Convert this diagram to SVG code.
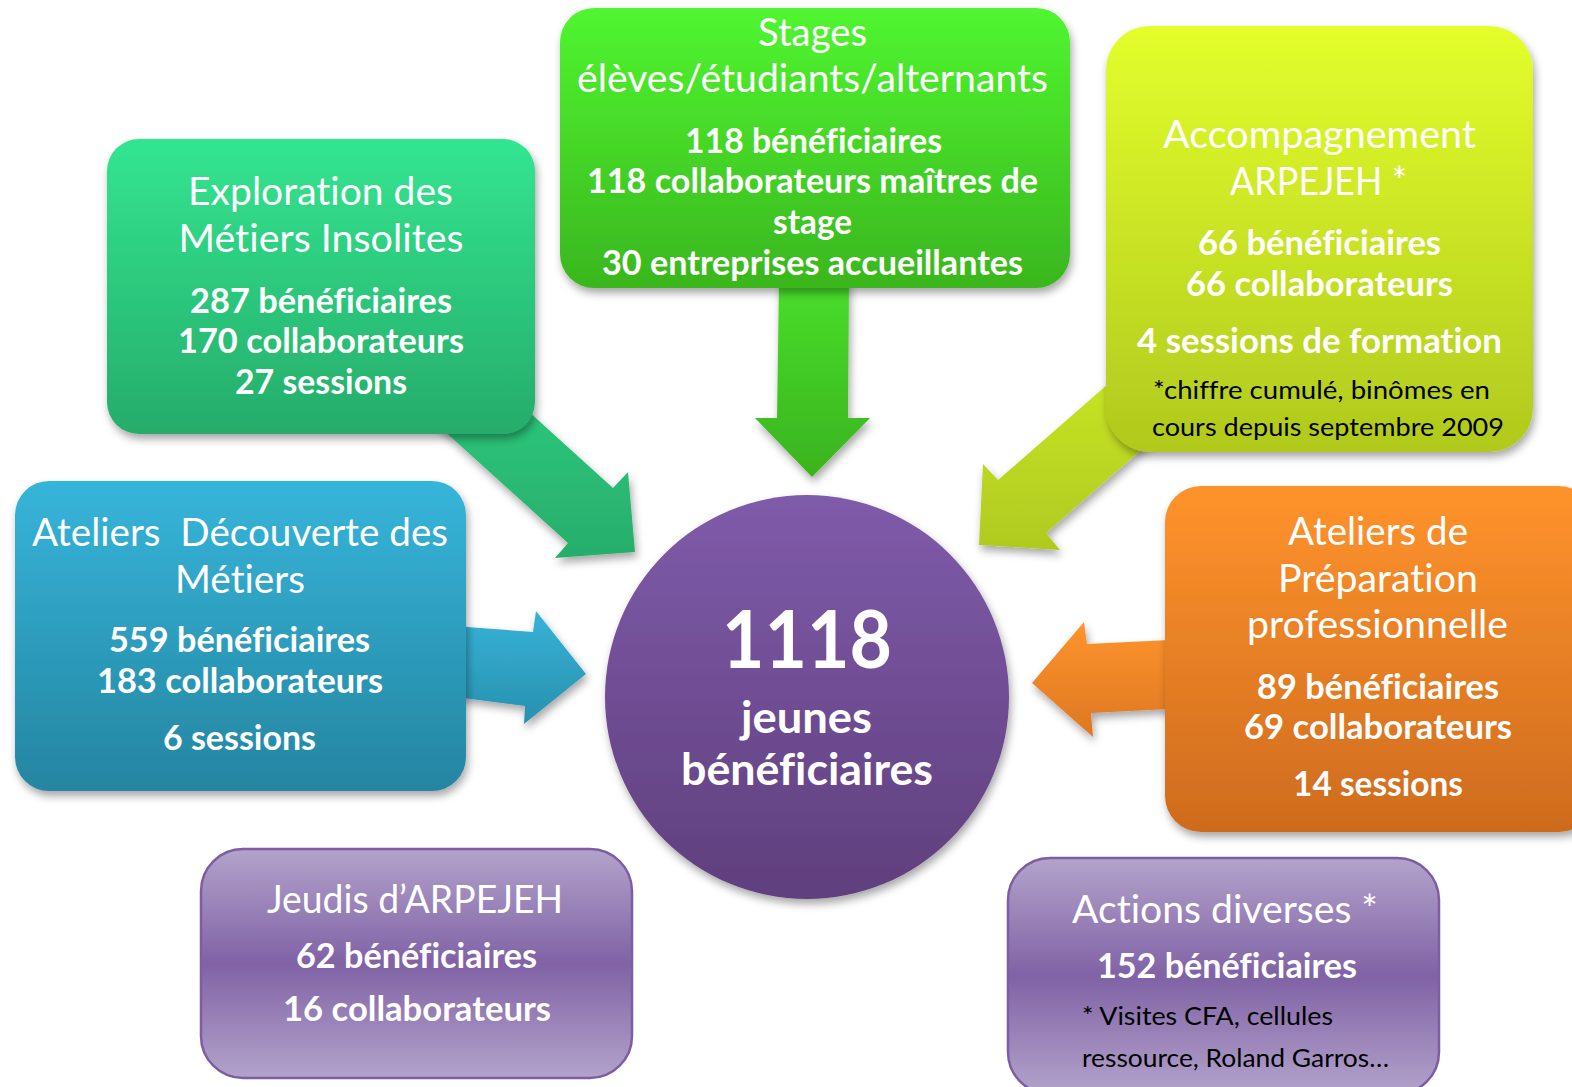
<svg xmlns="http://www.w3.org/2000/svg" width="1572" height="1087" viewBox="0 0 1572 1087">
<defs>
<style>
text{font-family:Lato,"Open Sans","Liberation Sans",sans-serif;text-anchor:middle;white-space:pre;font-variant-ligatures:none;font-feature-settings:"liga" 0}
.t{fill:#fff;font-size:38px;font-weight:400}
.b{fill:#fff;font-size:34px;font-weight:700}
.k{fill:#000;font-size:25px;font-weight:400;text-anchor:start}
.c{fill:#fff;font-weight:700}
</style>
<filter id="sh" x="-10%" y="-10%" width="125%" height="130%">
<feDropShadow dx="2" dy="5" stdDeviation="4" flood-color="#000" flood-opacity="0.35"/>
</filter>
<linearGradient id="gExp" x1="0" y1="0" x2="0" y2="1"><stop offset="0" stop-color="#33E590"/><stop offset="1" stop-color="#26AC6A"/></linearGradient>
<linearGradient id="gSta" x1="0" y1="0" x2="0" y2="1"><stop offset="0" stop-color="#50F630"/><stop offset="1" stop-color="#3AB61E"/></linearGradient>
<linearGradient id="gAcc" x1="0" y1="0" x2="0" y2="1"><stop offset="0" stop-color="#E3FE2B"/><stop offset="1" stop-color="#B0C91E"/></linearGradient>
<linearGradient id="gDec" x1="0" y1="0" x2="0" y2="1"><stop offset="0" stop-color="#36B5DA"/><stop offset="1" stop-color="#2585A1"/></linearGradient>
<linearGradient id="gPre" x1="0" y1="0" x2="0" y2="1"><stop offset="0" stop-color="#FF932C"/><stop offset="1" stop-color="#CE6B1E"/></linearGradient>
<linearGradient id="gPur" x1="0" y1="0" x2="0" y2="1"><stop offset="0" stop-color="#B3A3CB"/><stop offset="0.5" stop-color="#8062A5"/><stop offset="1" stop-color="#B3A3CB"/></linearGradient>
<linearGradient id="gCir" x1="0" y1="0" x2="0" y2="1"><stop offset="0" stop-color="#7F5BAA"/><stop offset="1" stop-color="#603F7D"/></linearGradient>
<linearGradient id="aExp" x1="0" y1="0" x2="0" y2="1"><stop offset="0" stop-color="#2FCD80"/><stop offset="1" stop-color="#27AE6B"/></linearGradient>
<linearGradient id="aSta" x1="0" y1="0" x2="0" y2="1"><stop offset="0" stop-color="#48DE2B"/><stop offset="1" stop-color="#3BB31E"/></linearGradient>
<linearGradient id="aAcc" x1="0" y1="0" x2="0" y2="1"><stop offset="0" stop-color="#CBE826"/><stop offset="1" stop-color="#B0CA1F"/></linearGradient>
<linearGradient id="aDec" x1="0" y1="0" x2="0" y2="1"><stop offset="0" stop-color="#37B3D7"/><stop offset="1" stop-color="#2890AF"/></linearGradient>
<linearGradient id="aPre" x1="0" y1="0" x2="0" y2="1"><stop offset="0" stop-color="#FF942D"/><stop offset="1" stop-color="#DD7722"/></linearGradient>
</defs>
<rect width="1572" height="1087" fill="#fff"/>

<g id="connectors" filter="url(#sh)">
<polygon fill="url(#aExp)" points="465,354 613,488 628,472 635,552 555,558 568,543 420,409"/>
<polygon fill="url(#aSta)" points="779,280 849,280 848,418 870,418 812,477 755,418 777,418"/>
<polygon fill="url(#aAcc)" points="1148,349 998,480 983,464 979,545 1060,550 1046,533 1196,402"/>
<polygon fill="url(#aDec)" points="440,625 533,632 536,611 586,674 524,724 525,706 440,695"/>
<polygon fill="url(#aPre)" points="1190,639 1087,644 1084,622 1032,683 1093,737 1091,713 1190,708"/>
</g>

<g id="center">
<circle cx="807" cy="697" r="202" fill="url(#gCir)" filter="url(#sh)"/>
<text class="c" x="807" y="668" font-size="80" textLength="170" lengthAdjust="spacingAndGlyphs">1118</text>
<text class="c" x="806.5" y="733" font-size="44" textLength="131" lengthAdjust="spacingAndGlyphs">jeunes</text>
<text class="c" x="807" y="785" font-size="44" textLength="252" lengthAdjust="spacingAndGlyphs">bénéficiaires</text>
</g>

<g id="exploration">
<rect x="107" y="139" width="428" height="295" rx="32" fill="url(#gExp)" filter="url(#sh)"/>
<text class="t" x="320.5" y="205" textLength="265" lengthAdjust="spacingAndGlyphs">Exploration des</text>
<text class="t" x="321" y="252" textLength="285" lengthAdjust="spacingAndGlyphs">Métiers Insolites</text>
<text class="b" x="321" y="313" textLength="262" lengthAdjust="spacingAndGlyphs">287 bénéficiaires</text>
<text class="b" x="321" y="353" textLength="286" lengthAdjust="spacingAndGlyphs">170 collaborateurs</text>
<text class="b" x="321" y="394" textLength="172" lengthAdjust="spacingAndGlyphs">27 sessions</text>
</g>

<g id="stages">
<rect x="560" y="8" width="510" height="280" rx="34" fill="url(#gSta)" filter="url(#sh)"/>
<text class="t" x="812.5" y="46" textLength="109" lengthAdjust="spacingAndGlyphs">Stages</text>
<text class="t" x="812.5" y="92" textLength="471" lengthAdjust="spacingAndGlyphs">élèves/étudiants/alternants</text>
<text class="b" x="813.5" y="153" textLength="257" lengthAdjust="spacingAndGlyphs">118 bénéficiaires</text>
<text class="b" x="812.5" y="193" textLength="451" lengthAdjust="spacingAndGlyphs">118 collaborateurs maîtres de</text>
<text class="b" x="812.5" y="234" textLength="79" lengthAdjust="spacingAndGlyphs">stage</text>
<text class="b" x="812.5" y="275" textLength="421" lengthAdjust="spacingAndGlyphs">30 entreprises accueillantes</text>
</g>

<g id="accompagnement">
<rect x="1106" y="26" width="427" height="426" rx="44" fill="url(#gAcc)" filter="url(#sh)"/>
<text class="t" x="1319.5" y="148" textLength="313" lengthAdjust="spacingAndGlyphs">Accompagnement</text>
<text class="t" x="1318.5" y="195" textLength="177" lengthAdjust="spacingAndGlyphs">ARPEJEH *</text>
<text class="b" x="1319.5" y="255" textLength="243" lengthAdjust="spacingAndGlyphs">66 bénéficiaires</text>
<text class="b" x="1319.5" y="296" textLength="267" lengthAdjust="spacingAndGlyphs">66 collaborateurs</text>
<text class="b" x="1319.5" y="353" textLength="365" lengthAdjust="spacingAndGlyphs">4 sessions de formation</text>
<text class="k" x="1153" y="399" textLength="337" lengthAdjust="spacingAndGlyphs">*chiffre cumulé, binômes en</text>
<text class="k" x="1152" y="436" textLength="352" lengthAdjust="spacingAndGlyphs">cours depuis septembre 2009</text>
</g>

<g id="decouverte">
<rect x="15" y="481" width="451" height="310" rx="34" fill="url(#gDec)" filter="url(#sh)"/>
<text class="t" x="240" y="546" textLength="416" lengthAdjust="spacingAndGlyphs">Ateliers  Découverte des</text>
<text class="t" x="240" y="593" textLength="130" lengthAdjust="spacingAndGlyphs">Métiers</text>
<text class="b" x="239.5" y="652" textLength="261" lengthAdjust="spacingAndGlyphs">559 bénéficiaires</text>
<text class="b" x="240" y="693" textLength="286" lengthAdjust="spacingAndGlyphs">183 collaborateurs</text>
<text class="b" x="239.5" y="750" textLength="153" lengthAdjust="spacingAndGlyphs">6 sessions</text>
</g>

<g id="preparation">
<rect x="1165" y="486" width="430" height="346" rx="36" fill="url(#gPre)" filter="url(#sh)"/>
<text class="t" x="1378" y="545" textLength="180" lengthAdjust="spacingAndGlyphs">Ateliers de</text>
<text class="t" x="1378" y="592" textLength="200" lengthAdjust="spacingAndGlyphs">Préparation</text>
<text class="t" x="1377.5" y="638" textLength="261" lengthAdjust="spacingAndGlyphs">professionnelle</text>
<text class="b" x="1378" y="699" textLength="242" lengthAdjust="spacingAndGlyphs">89 bénéficiaires</text>
<text class="b" x="1378" y="739" textLength="268" lengthAdjust="spacingAndGlyphs">69 collaborateurs</text>
<text class="b" x="1378" y="796" textLength="170" lengthAdjust="spacingAndGlyphs">14 sessions</text>
</g>

<g id="jeudis">
<rect x="201" y="849" width="431" height="229" rx="42" fill="url(#gPur)" stroke="#7D5EA2" stroke-width="2.5"/>
<text class="t" x="415" y="913" textLength="296" lengthAdjust="spacingAndGlyphs">Jeudis d’ARPEJEH</text>
<text class="b" x="416.5" y="968" textLength="241" lengthAdjust="spacingAndGlyphs">62 bénéficiaires</text>
<text class="b" x="417" y="1021" textLength="268" lengthAdjust="spacingAndGlyphs">16 collaborateurs</text>
</g>

<g id="actions">
<rect x="1008" y="858" width="431" height="236" rx="42" fill="url(#gPur)" stroke="#7D5EA2" stroke-width="2.5"/>
<text class="t" x="1225" y="923" textLength="306" lengthAdjust="spacingAndGlyphs">Actions diverses *</text>
<text class="b" x="1227" y="978" textLength="260" lengthAdjust="spacingAndGlyphs">152 bénéficiaires</text>
<text class="k" x="1082" y="1025" textLength="251" lengthAdjust="spacingAndGlyphs">* Visites CFA, cellules</text>
<text class="k" x="1082" y="1067" textLength="307" lengthAdjust="spacingAndGlyphs">ressource, Roland Garros…</text>
</g>
</svg>
